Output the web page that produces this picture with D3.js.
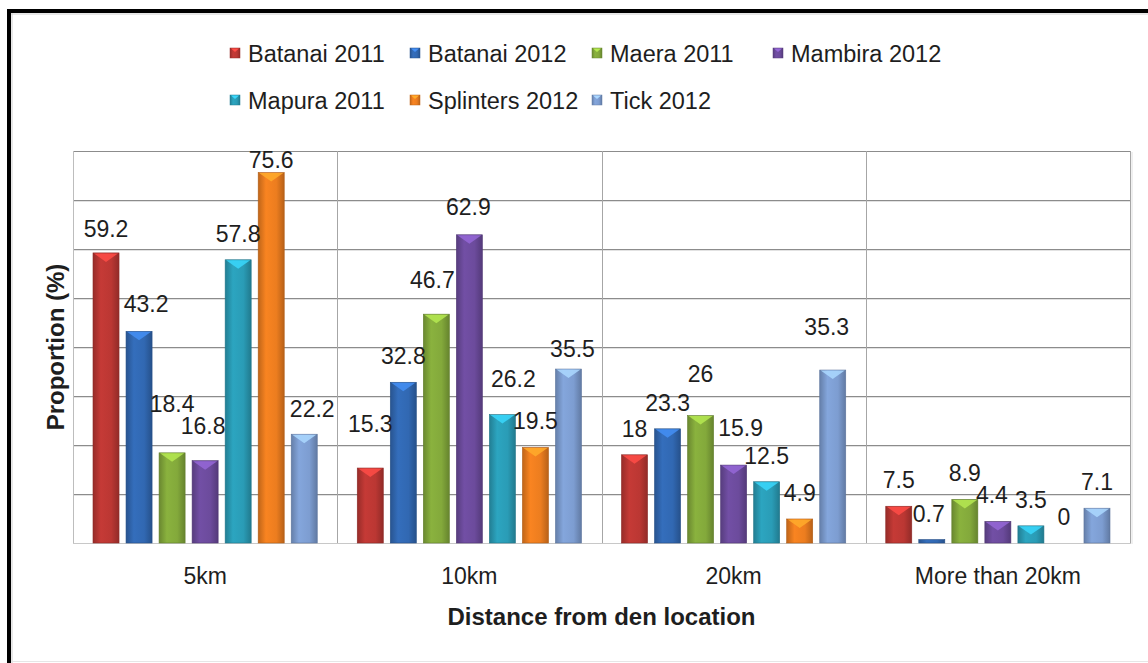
<!DOCTYPE html>
<html>
<head>
<meta charset="utf-8">
<script src="https://cdn.jsdelivr.net/npm/d3@7/dist/d3.min.js"></script>
<style>
  body { margin: 0; background: #fff; }
  text { font-family: "Liberation Sans", Arial, sans-serif; fill: #1e1e1e; }
</style>
</head>
<body>
<div id="chart"></div>
<script>
// categories and series
var categories = ["5km", "10km", "20km", "More than 20km"];
var seriesNames = ["Batanai 2011", "Batanai 2012", "Maera 2011", "Mambira 2012",
                   "Mapura 2011", "Splinters 2012", "Tick 2012"];

// values per series, one per category
var batanai2011 = [59.2, 15.3, 18, 7.5];
var batanai2012 = [43.2, 32.8, 23.3, 0.7];
var maera2011 = [18.4, 46.7, 26, 8.9];
var mambira2012 = [16.8, 62.9, 15.9, 4.4];
var mapura2011 = [57.8, 26.2, 12.5, 3.5];
var splinters2012 = [75.6, 19.5, 4.9, 0];
var tick2012 = [22.2, 35.5, 35.3, 7.1];

var yTicks = [0, 10, 20, 30, 40, 50, 60, 70, 80];

var seriesValues = [batanai2011, batanai2012, maera2011, mambira2012,
                    mapura2011, splinters2012, tick2012];
var colors = ["#bb3733", "#3168b2", "#83a93b", "#6c4b9c", "#2a9cb6", "#ec7d1f", "#7d9dd1"];

// the data labels were dragged by hand in the original: extra [dx, dy]
var labelNudge = {
  "0|0": [0, 2], "1|0": [7, -1], "2|0": [0, -23], "3|0": [-2, -9], "5|0": [0, 13], "6|0": [8, 1],
  "0|1": [0, -18], "2|1": [-4, -8], "3|1": [-1, -2], "4|1": [11, -10], "6|1": [4, 6],
  "2|2": [0, -16], "3|2": [7, -11], "6|2": [-6, -17],
  "1|3": [-3, 0], "3|3": [-6, 0]
};

var W = 1148, H = 663;
var plot = {left: 73, right: 1130, top: 151, bottom: 543};

var svg = d3.select("#chart").append("svg")
  .attr("width", W)
  .attr("height", H);

var defs = svg.append("defs");
colors.forEach(function (c, i) {
  var base = d3.color(c);
  var g = defs.append("linearGradient")
    .attr("id", "grad" + i)
    .attr("x1", "0%").attr("x2", "100%").attr("y1", "0%").attr("y2", "0%");
  g.append("stop").attr("offset", "0%").attr("stop-color", base.darker(0.6));
  g.append("stop").attr("offset", "30%").attr("stop-color", base.brighter(0.15));
  g.append("stop").attr("offset", "70%").attr("stop-color", base);
  g.append("stop").attr("offset", "100%").attr("stop-color", base.darker(0.7));
});

// scales
var x0 = d3.scaleBand().domain(categories).range([plot.left, plot.right]);
var x1 = d3.scaleBand().domain(d3.range(seriesNames.length))
  .range([20, x0.bandwidth() - 20]).paddingInner(0.212).paddingOuter(0);
var y = d3.scaleLinear().domain([0, 80]).range([plot.bottom, plot.top]);

// frame
svg.append("line").attr("x1", 9).attr("x2", 9).attr("y1", 9).attr("y2", H)
  .attr("stroke", "#000").attr("stroke-width", 4);
svg.append("line").attr("x1", 7).attr("x2", W).attr("y1", 11).attr("y2", 11)
  .attr("stroke", "#000").attr("stroke-width", 4);
svg.append("line").attr("x1", 12).attr("x2", 12).attr("y1", 13).attr("y2", H)
  .attr("stroke", "#cfcfcf").attr("stroke-width", 1);
svg.append("line").attr("x1", 11).attr("x2", W).attr("y1", 14).attr("y2", 14)
  .attr("stroke", "#cfcfcf").attr("stroke-width", 1);
svg.append("line").attr("x1", 11).attr("x2", W).attr("y1", 661.5).attr("y2", 661.5)
  .attr("stroke", "#e6e6e6").attr("stroke-width", 1);

// horizontal gridlines
var grid = svg.append("g");
grid.selectAll("line.shadow")
  .data(yTicks.slice(1, -1))
  .enter().append("line")
  .attr("class", "shadow")
  .attr("x1", plot.left).attr("x2", plot.right)
  .attr("y1", function (d) { return Math.round(y(d)) + 1.5; })
  .attr("y2", function (d) { return Math.round(y(d)) + 1.5; })
  .attr("stroke", "#e2e2e2");
grid.selectAll("line.main")
  .data(yTicks.slice(1))
  .enter().append("line")
  .attr("class", "main")
  .attr("x1", plot.left).attr("x2", plot.right)
  .attr("y1", function (d) { return Math.round(y(d)) + 0.5; })
  .attr("y2", function (d) { return Math.round(y(d)) + 0.5; })
  .attr("stroke", "#8c8c8c");

// vertical gridlines at category boundaries
grid.selectAll("line.v")
  .data(categories.slice(1))
  .enter().append("line")
  .attr("class", "v")
  .attr("x1", function (d) { return Math.round(x0(d)) + 0.5; })
  .attr("x2", function (d) { return Math.round(x0(d)) + 0.5; })
  .attr("y1", plot.top).attr("y2", plot.bottom)
  .attr("stroke", "#a6a6a6");

// plot borders
svg.append("line").attr("x1", plot.left + 0.5).attr("x2", plot.left + 0.5)
  .attr("y1", plot.top).attr("y2", plot.bottom + 1).attr("stroke", "#bdbdbd");
svg.append("line").attr("x1", plot.right + 0.5).attr("x2", plot.right + 0.5)
  .attr("y1", plot.top).attr("y2", plot.bottom + 1).attr("stroke", "#a6a6a6");
svg.append("line").attr("x1", plot.right + 2).attr("x2", plot.right + 2)
  .attr("y1", plot.top + 1).attr("y2", plot.bottom + 1).attr("stroke", "#e0e0e0");
svg.append("line").attr("x1", plot.left).attr("x2", plot.right + 1)
  .attr("y1", plot.bottom + 0.5).attr("y2", plot.bottom + 0.5).attr("stroke", "#c8c8c8");

// bars
var rows = [];
seriesValues.forEach(function (vals, s) {
  vals.forEach(function (v, c) {
    rows.push({s: s, c: c, v: v});
  });
});

var bars = svg.append("g");
var barG = bars.selectAll("g.bar")
  .data(rows.filter(function (d) { return d.v > 0; }))
  .enter().append("g")
  .attr("class", "bar");

barG.append("rect")
  .attr("x", function (d) { return x0(categories[d.c]) + x1(d.s); })
  .attr("y", function (d) { return y(d.v); })
  .attr("width", x1.bandwidth())
  .attr("height", function (d) { return Math.max(2, plot.bottom - y(d.v)); })
  .attr("fill", function (d) { return "url(#grad" + d.s + ")"; })
  .attr("stroke", function (d) { return d3.color(colors[d.s]).darker(0.8); })
  .attr("stroke-width", 0.6);

// bevelled top
barG.filter(function (d) { return plot.bottom - y(d.v) > 6; })
  .append("path")
  .attr("d", function (d) {
    var l = x0(categories[d.c]) + x1(d.s), r = l + x1.bandwidth(), t = y(d.v);
    var h = Math.min(9, (plot.bottom - t) / 2);
    return "M" + (l + 1) + "," + (t + 0.5) + "L" + (r - 1) + "," + (t + 0.5) +
      "L" + (l + x1.bandwidth() / 2) + "," + (t + h) + "Z";
  })
  .attr("fill", function (d) { return d3.color(colors[d.s]).brighter(0.9); })
  .attr("opacity", 0.85);

// data labels
svg.append("g").selectAll("text")
  .data(rows)
  .enter().append("text")
  .attr("x", function (d) {
    var n = labelNudge[d.s + "|" + d.c] || [0, 0];
    return x0(categories[d.c]) + x1(d.s) + x1.bandwidth() / 2 + n[0];
  })
  .attr("y", function (d) {
    var n = labelNudge[d.s + "|" + d.c] || [0, 0];
    return y(d.v) - 18 + n[1];
  })
  .attr("text-anchor", "middle")
  .style("font-size", "23px")
  .text(function (d) { return d.v; });

// category labels
svg.append("g").selectAll("text")
  .data(categories)
  .enter().append("text")
  .attr("x", function (d) { return x0(d) + x0.bandwidth() / 2; })
  .attr("y", 584)
  .attr("text-anchor", "middle")
  .style("font-size", "23px")
  .text(function (d) { return d; });

// axis titles
svg.append("text")
  .attr("x", (plot.left + plot.right) / 2)
  .attr("y", 625)
  .attr("text-anchor", "middle")
  .style("font-size", "24px")
  .style("font-weight", "bold")
  .text("Distance from den location");

svg.append("text")
  .attr("transform", "translate(64," + (plot.top + plot.bottom) / 2 + ") rotate(-90)")
  .attr("text-anchor", "middle")
  .style("font-size", "24px")
  .style("font-weight", "bold")
  .text("Proportion (%)");

// legend: 4 columns, 2 rows
var legendCols = [230, 410, 592, 773];
var legendRows = [53, 100];
var legend = svg.append("g").selectAll("g")
  .data(seriesNames)
  .enter().append("g")
  .attr("transform", function (d, i) {
    return "translate(" + legendCols[i % 4] + "," + legendRows[Math.floor(i / 4)] + ")";
  });
legend.append("rect")
  .attr("x", 0).attr("y", -5)
  .attr("width", 10).attr("height", 10)
  .attr("fill", function (d, i) { return "url(#grad" + i + ")"; })
  .attr("stroke", function (d, i) { return d3.color(colors[i]).darker(0.6); })
  .attr("stroke-width", 0.5);
legend.append("path")
  .attr("d", "M1,-4.5L9,-4.5L5,-1Z")
  .attr("fill", function (d, i) { return d3.color(colors[i]).brighter(0.9); });
legend.append("text")
  .attr("x", 18)
  .attr("y", 8.5)
  .style("font-size", "23.5px")
  .text(function (d) { return d; });
</script>
</body>
</html>
